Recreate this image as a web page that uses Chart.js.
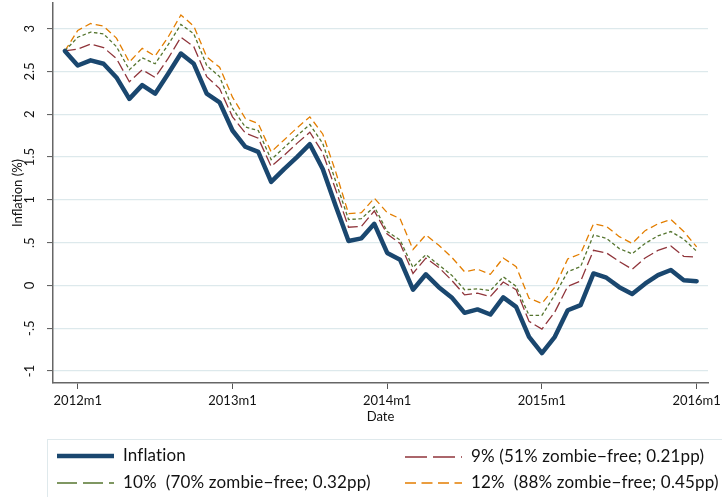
<!DOCTYPE html>
<html>
<head>
<meta charset="utf-8">
<script src="https://cdn.jsdelivr.net/npm/chart.js@4.4.1/dist/chart.umd.min.js"></script>
<style>
  html, body { margin: 0; padding: 0; background: #ffffff; overflow: hidden; }
  #wrap { position: relative; width: 722px; height: 497px; }
  #c { position: absolute; left: 0; top: 0; }
  #legend { position: absolute; left: 47px; top: 439px; width: 700px; height: 80px;
            border: 1px solid #dfe9ec; box-sizing: border-box; font-family: Lato, sans-serif;
            font-size: 17px; color: #111; }
  .item { position: absolute; white-space: pre; line-height: 20px; letter-spacing: 0.15px; }
</style>
</head>
<body>
<div id="wrap">
  <canvas id="c" width="722" height="497"></canvas>
  <div id="legend"></div>
</div>
<script>
// ---- data ----
const months = [
  "2011m12",
  "2012m1","2012m2","2012m3","2012m4","2012m5","2012m6","2012m7","2012m8","2012m9","2012m10","2012m11","2012m12",
  "2013m1","2013m2","2013m3","2013m4","2013m5","2013m6","2013m7","2013m8","2013m9","2013m10","2013m11","2013m12",
  "2014m1","2014m2","2014m3","2014m4","2014m5","2014m6","2014m7","2014m8","2014m9","2014m10","2014m11","2014m12",
  "2015m1","2015m2","2015m3","2015m4","2015m5","2015m6","2015m7","2015m8","2015m9","2015m10","2015m11","2015m12",
  "2016m1"
];
const inflation = [
  2.74,
  2.57, 2.63, 2.59, 2.43, 2.18, 2.34, 2.24, 2.47, 2.71, 2.59, 2.24, 2.14,
  1.81, 1.62, 1.56, 1.21, 1.36, 1.50, 1.65, 1.36, 0.93, 0.52, 0.55, 0.72,
  0.38, 0.30, -0.05, 0.13, -0.02, -0.14, -0.32, -0.28, -0.34, -0.14, -0.25, -0.60,
  -0.79, -0.60, -0.29, -0.23, 0.14, 0.09, -0.02, -0.10, 0.02, 0.12, 0.18, 0.06,
  0.05
];
const zf9 = [
  2.74,
  2.76, 2.82, 2.78, 2.65, 2.38, 2.52, 2.43, 2.65, 2.90, 2.79, 2.44, 2.30,
  1.97, 1.78, 1.72, 1.39, 1.52, 1.66, 1.79, 1.55, 1.12, 0.68, 0.69, 0.87,
  0.60, 0.49, 0.14, 0.32, 0.21, 0.06, -0.11, -0.09, -0.13, 0.04, -0.05, -0.42,
  -0.51, -0.31, -0.01, 0.05, 0.41, 0.38, 0.28, 0.19, 0.32, 0.41, 0.46, 0.34,
  0.33
];
const zf10 = [
  2.74,
  2.90, 2.96, 2.94, 2.79, 2.52, 2.66, 2.59, 2.81, 3.05, 2.94, 2.57, 2.44,
  2.07, 1.85, 1.81, 1.47, 1.61, 1.75, 1.88, 1.66, 1.22, 0.77, 0.78, 0.92,
  0.63, 0.53, 0.21, 0.36, 0.24, 0.12, -0.05, -0.04, -0.06, 0.10, -0.01, -0.35,
  -0.35, -0.11, 0.16, 0.22, 0.59, 0.55, 0.43, 0.37, 0.49, 0.58, 0.63, 0.54,
  0.40
];
const zf12 = [
  2.74,
  2.98, 3.06, 3.03, 2.89, 2.61, 2.77, 2.68, 2.90, 3.16, 3.03, 2.67, 2.55,
  2.20, 1.95, 1.89, 1.56, 1.70, 1.84, 1.97, 1.77, 1.33, 0.84, 0.85, 1.02,
  0.85, 0.78, 0.42, 0.59, 0.47, 0.33, 0.16, 0.19, 0.13, 0.32, 0.22, -0.15,
  -0.21, -0.02, 0.31, 0.37, 0.72, 0.69, 0.57, 0.49, 0.64, 0.72, 0.77, 0.63,
  0.45
];
const seriesNames = [
  "Inflation",
  "9% (51% zombie\u2212free; 0.21pp)",
  "10%  (70% zombie\u2212free; 0.32pp)",
  "12%  (88% zombie\u2212free; 0.45pp)"
];
const xTickLabels = ["2012m1", "2013m1", "2014m1", "2015m1", "2016m1"];
const yTickValues = [-1, -0.5, 0, 0.5, 1, 1.5, 2, 2.5, 3];
const yTickLabels = ["-1", "-.5", "0", ".5", "1", "1.5", "2", "2.5", "3"];

// ---- helpers (month label -> months since 2012m1) ----
function monthIndex(lbl) {
  const p = lbl.split("m");
  return (parseInt(p[0], 10) - 2012) * 12 + (parseInt(p[1], 10) - 1);
}
const xTickValues = xTickLabels.map(monthIndex);
const pts = arr => arr.map((v, i) => ({ x: monthIndex(months[i]), y: v }));

const colors = ["#1a476f", "#90353b", "#55752f", "#e37e00"];
const widths = [4.5, 1.3, 1.3, 1.3];
const dashes = [[], [11, 4], [3.5, 2.5], [7, 4]];
const seriesData = [inflation, zf9, zf10, zf12];

const FONT = "Lato";
const TXT = "#111111";

new Chart(document.getElementById("c"), {
  type: "line",
  data: {
    datasets: seriesData.map((d, i) => ({
      label: seriesNames[i],
      data: pts(d),
      borderColor: colors[i],
      backgroundColor: colors[i],
      borderWidth: widths[i],
      borderDash: dashes[i],
      pointRadius: 0,
      pointHoverRadius: 0,
      tension: 0,
      fill: false,
      borderJoinStyle: i === 0 ? "round" : "miter",
      borderCapStyle: i === 0 ? "round" : "butt"
    }))
  },
  options: {
    responsive: false,
    animation: false,
    devicePixelRatio: 1,
    layout: { padding: { left: 0, right: 14, top: 3, bottom: 72.5 } },
    plugins: { legend: { display: false }, tooltip: { enabled: false } },
    scales: {
      x: {
        type: "linear",
        min: -1.92,
        max: 48.88,
        afterBuildTicks: s => { s.ticks = xTickValues.map(v => ({ value: v })); },
        afterFit: s => { s.height = 41.5; s.paddingLeft = 0; s.paddingRight = 0; },
        ticks: {
          autoSkip: false, maxRotation: 0, minRotation: 0, padding: 4,
          color: TXT, font: { family: FONT, size: 13 },
          callback: v => xTickLabels[xTickValues.indexOf(v)]
        },
        grid: { drawOnChartArea: false, drawTicks: true, tickLength: 6, tickColor: "#555", tickWidth: 1 },
        border: { display: true, color: "#666", width: 1.5 },
        title: { display: true, text: "Date", color: TXT, font: { family: FONT, size: 13 }, padding: { top: 0, bottom: 0 } }
      },
      y: {
        type: "linear",
        min: -1.14,
        max: 3.30,
        afterBuildTicks: s => { s.ticks = yTickValues.map(v => ({ value: v })); },
        afterFit: s => { s.width = 53; s.paddingTop = 0; s.paddingBottom = 0; },
        ticks: {
          autoSkip: false, minRotation: 90, maxRotation: 90, crossAlign: "center", padding: 8,
          color: TXT, font: { family: FONT, size: 13 },
          callback: v => yTickLabels[yTickValues.indexOf(v)]
        },
        grid: { color: "#dde9ec", lineWidth: 1.2, drawTicks: true, tickLength: 6, tickColor: "#555", tickWidth: 1 },
        border: { display: true, color: "#666", width: 1.5 },
        title: { display: true, text: "Inflation (%)", color: TXT, font: { family: FONT, size: 13 }, padding: { top: 10, bottom: 0 } }
      }
    }
  }
});

// ---- legend (HTML, built from the series arrays) ----
const legendDash = ["", "22 6", "20 6", "11 5.5"];
const legendPos = [
  { lx: 9, tx: 75, cy: 16 },
  { lx: 357, tx: 423, cy: 17 },
  { lx: 9, tx: 75, cy: 42.5 },
  { lx: 357, tx: 423, cy: 42.5 }
];
const leg = document.getElementById("legend");
seriesNames.forEach((name, i) => {
  const p = legendPos[i];
  const svgNS = "http://www.w3.org/2000/svg";
  const svg = document.createElementNS(svgNS, "svg");
  svg.setAttribute("width", "60"); svg.setAttribute("height", "10");
  svg.style.position = "absolute";
  svg.style.left = p.lx + "px";
  svg.style.top = (p.cy - 5) + "px";
  const ln = document.createElementNS(svgNS, "line");
  ln.setAttribute("x1", "0"); ln.setAttribute("x2", "57");
  ln.setAttribute("y1", "5"); ln.setAttribute("y2", "5");
  ln.setAttribute("stroke", colors[i]);
  ln.setAttribute("stroke-width", i === 0 ? "4.5" : "1.3");
  if (legendDash[i]) ln.setAttribute("stroke-dasharray", legendDash[i]);
  svg.appendChild(ln);
  leg.appendChild(svg);
  const t = document.createElement("div");
  t.className = "item";
  t.textContent = name;
  t.style.left = p.tx + "px";
  t.style.top = (p.cy - 11) + "px";
  leg.appendChild(t);
});
</script>
</body>
</html>
